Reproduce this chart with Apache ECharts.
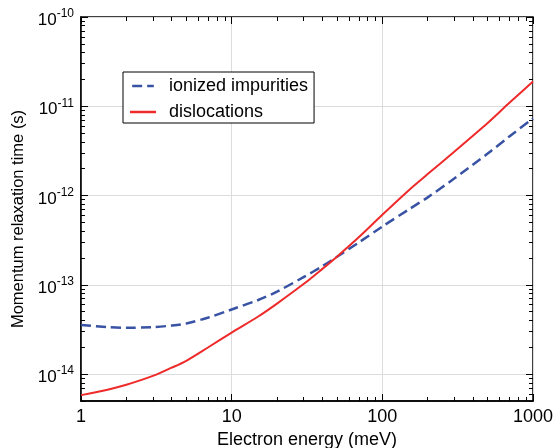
<!DOCTYPE html>
<html>
<head>
<meta charset="utf-8">
<script src="https://cdn.jsdelivr.net/npm/echarts@6/dist/echarts.min.js"></script>
<style>
  html, body { margin: 0; padding: 0; background: #fff; }
  #main { width: 554px; height: 448px; }
</style>
</head>
<body>
<div id="main"></div>
<script>
// 数据
var energy = [1, 1.5, 2, 3, 4, 5, 7, 10, 15, 20, 30, 40, 50, 70, 100, 150, 200, 300, 500, 700, 1000];
var ionized = [3.56e-14, 3.36e-14, 3.30e-14, 3.36e-14, 3.50e-14, 3.69e-14, 4.3e-14, 5.3e-14, 6.76e-14, 8.4e-14, 1.22e-13, 1.62e-13, 2.06e-13, 2.99e-13, 4.5e-13, 7.0e-13, 9.55e-13, 1.55e-12, 2.95e-12, 4.62e-12, 7.3e-12];
var disloc = [5.82e-15, 6.7e-15, 7.6e-15, 9.55e-15, 1.18e-14, 1.41e-14, 2.0e-14, 2.92e-14, 4.42e-14, 6.17e-14, 1.02e-13, 1.51e-13, 2.07e-13, 3.43e-13, 6.1e-13, 1.15e-12, 1.74e-12, 3.1e-12, 6.5e-12, 1.1e-11, 1.89e-11];
var seriesNames = ['ionized impurities', 'dislocations'];

// 坐标轴范围与刻度
var xMin = 1, xMax = 1000;
var yMin = 5e-15, yMax = 1e-10;
var xMajor = [1, 10, 100, 1000];
var yMajor = [1e-14, 1e-13, 1e-12, 1e-11, 1e-10];
var xMinor = [], yMinor = [];
xMajor.slice(0, 3).forEach(function (d) {
  for (var m = 2; m <= 9; m++) xMinor.push(m * d);
});
[1e-15].concat(yMajor.slice(0, 4)).forEach(function (d) {
  for (var m = 2; m <= 9; m++) {
    if (m * d >= yMin) yMinor.push(m * d);
  }
});

var chart = echarts.init(document.getElementById('main'));
var font = "'Liberation Sans', Arial, Helvetica, sans-serif";
var blue = '#3953a4', red = '#ee2a2a';

function pairs(ys) {
  return energy.map(function (x, i) { return [x, ys[i]]; });
}

// 只画刻度的辅助轴（四边都有主/次刻度）
function tickAxis(pos, min, max, vals, len) {
  return {
    type: 'log', logBase: 10, min: min, max: max, position: pos, offset: 0,
    axisLine: { show: false },
    axisTick: { show: true, inside: true, length: len, customValues: vals,
      lineStyle: { color: '#000', width: 1 } },
    axisLabel: { show: false },
    splitLine: { show: false }
  };
}

var option = {
  animation: false,
  textStyle: { fontFamily: font },
  grid: {
    left: 81, right: 21, top: 17, bottom: 47,
    outerBoundsMode: 'none',
    show: true, borderColor: '#000', borderWidth: 1.5, backgroundColor: 'transparent'
  },
  legend: {
    data: [
      { name: seriesNames[0], icon: 'path://M0,0H12V3H0Z M18,0H26V3H18Z' },
      { name: seriesNames[1], icon: 'rect' }
    ],
    orient: 'vertical',
    left: 123, top: 72,
    backgroundColor: '#fff',
    borderColor: '#000', borderWidth: 1,
    borderRadius: 0,
    padding: [5, 6, 2, 7],
    itemWidth: 26, itemHeight: 2.5, itemGap: 8,
    textStyle: { fontFamily: font, fontSize: 18, color: '#000', padding: [0, 0, 0, 8] }
  },
  xAxis: [
    {
      type: 'log', logBase: 10, min: xMin, max: xMax, position: 'bottom',
      name: 'Electron energy (meV)', nameLocation: 'middle', nameGap: 27,
      nameTextStyle: { fontFamily: font, fontSize: 18, color: '#000' },
      axisLine: { show: true, lineStyle: { color: '#000', width: 1.5 } },
      axisTick: { show: true, inside: true, length: 7, customValues: xMajor,
        lineStyle: { color: '#000', width: 1 } },
      axisLabel: {
        fontFamily: font, fontSize: 18, color: '#000', margin: 7,
        customValues: xMajor,
        formatter: function (v) { return String(Math.round(v)); }
      },
      splitLine: { show: true, lineStyle: { color: '#dcdcdc', width: 1 } }
    },
    tickAxis('bottom', xMin, xMax, xMinor, 4),
    tickAxis('top', xMin, xMax, xMajor, 7),
    tickAxis('top', xMin, xMax, xMinor, 4)
  ],
  yAxis: [
    {
      type: 'log', logBase: 10, min: yMin, max: yMax, position: 'left',
      name: 'Momentum relaxation time (s)', nameLocation: 'middle', nameGap: 49,
      nameTextStyle: { fontFamily: font, fontSize: 16.5, color: '#000', padding: [0, 20, 0, 0] },
      axisLine: { show: true, lineStyle: { color: '#000', width: 1.5 } },
      axisTick: { show: true, inside: true, length: 7, customValues: yMajor,
        lineStyle: { color: '#000', width: 1 } },
      axisLabel: {
        margin: 7,
        customValues: yMajor,
        formatter: function (v) {
          var lg = Math.log10(v);
          var ex = Math.round(lg);
          if (Math.abs(lg - ex) > 1e-6) return '';
          return '{b|10}{s|' + ex + '}';
        },
        rich: {
          b: { fontFamily: font, fontSize: 17, color: '#000', padding: [7, 0, 0, 0] },
          s: { fontFamily: font, fontSize: 12, color: '#000', padding: [0, 0, 6, 0] }
        }
      },
      splitLine: { show: true, lineStyle: { color: '#dcdcdc', width: 1 } }
    },
    tickAxis('left', yMin, yMax, yMinor, 4),
    tickAxis('right', yMin, yMax, yMajor, 7),
    tickAxis('right', yMin, yMax, yMinor, 4)
  ],
  series: [
    {
      name: seriesNames[0], type: 'line', data: pairs(ionized),
      xAxisIndex: 0, yAxisIndex: 0,
      smooth: 0.3, symbol: 'none',
      lineStyle: { color: blue, width: 2.5, type: [10, 5] },
      itemStyle: { color: blue }, z: 3
    },
    {
      name: seriesNames[1], type: 'line', data: pairs(disloc),
      xAxisIndex: 0, yAxisIndex: 0,
      smooth: 0.3, symbol: 'none',
      lineStyle: { color: red, width: 2 },
      itemStyle: { color: red }, z: 4
    }
  ]
};

chart.setOption(option);
</script>
</body>
</html>
